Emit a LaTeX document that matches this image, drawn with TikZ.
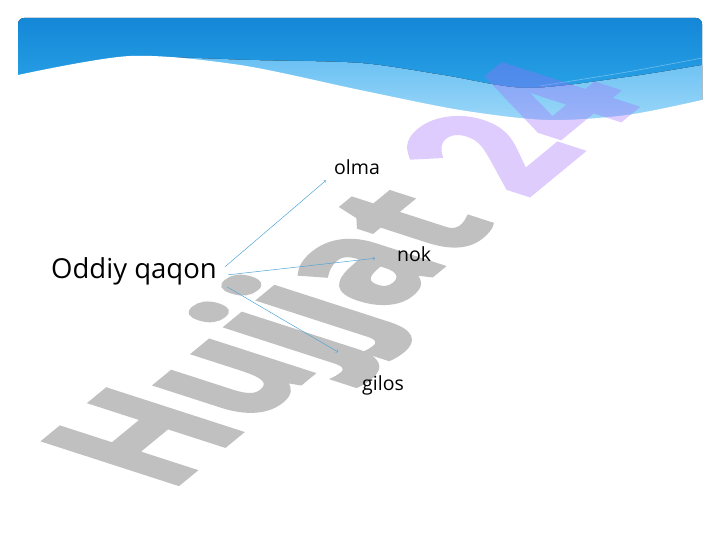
\documentclass[tikz,border=0pt]{standalone}
\usepackage{fontspec}
\setmainfont{Open Sans}
\newfontfamily\markfont{Open Sans}[BoldFeatures={FakeBold=3}]
\usetikzlibrary{arrows}
\definecolor{headtop}{RGB}{20,135,215}
\definecolor{headbot}{RGB}{55,180,240}
\definecolor{bandtop}{RGB}{105,192,243}
\definecolor{bandbot}{RGB}{170,222,250}
\definecolor{linkblue}{RGB}{80,165,215}
\definecolor{markgray}{RGB}{75,75,75}
\definecolor{markviolet}{RGB}{160,110,250}
\tikzset
{
    word/.style    = {anchor=base west, inner sep=2pt, font=\fontsize{19.5}{23}\selectfont},
    bigword/.style = {word, font=\fontsize{27.5}{33}\selectfont},
    link/.style    = {->, draw=linkblue, line width=0.5pt},
    stamp/.style   = {anchor=base west, inner sep=0pt, transform shape, font=\fontsize{100}{120}\markfont\bfseries}
}

\begin{document}
\begin{tikzpicture}[x=1pt, y=-1pt]
\useasboundingbox (0,0) rectangle (720,540);

%% header
\fill[top color=headtop, bottom color=headbot, rounded corners=6pt] (18,18) rectangle (702,140);
\fill[top color=bandtop, bottom color=bandbot] plot[smooth] coordinates {(170,57) (250,60) (360,63) (443,75) (527,88) (627,77) (702,65)} -- (702,140) -- (170,140) -- cycle;
\draw[white, opacity=0.35, line width=0.6pt] plot[smooth] coordinates {(540,86) (627,72) (702,58)};
\fill[white] (0,75) -- plot[smooth] coordinates {(18,75) (130,56) (240,65) (360,90) (460,110) (547,120) (627,115) (702,100)} -- (720,100) -- (720,150) -- (0,150) -- cycle;

%% watermark
\begin{scope}[transparency group, opacity=0.35, shift={(168,492)}, cm={1.07,0.88,-1.863,0.602,(0,0)}]
\node (mark) [stamp] at (0,0) {\textcolor{markgray}{Hujjat} \textcolor{markviolet}{24}};
\end{scope}

\node (src)   [bigword] at (49,278)  {Oddiy qaqon};
\node (olma)  [word]    at (332,174.5) {olma};
\node (nok)   [word]    at (395,261) {nok};
\node (gilos) [word]    at (360,390) {gilos};

\path
([xshift=6pt,yshift=4pt]src.east)        edge[link] ([xshift=-6pt,yshift=-3.5pt]olma.south west)
([xshift=9pt,yshift=-4pt]src.east)       edge[link] ([xshift=-20pt,yshift=-4.6pt]nok.west)
([xshift=8pt,yshift=0pt]src.south east)  edge[link] ([xshift=-22pt,yshift=21pt]gilos.north west);
\end{tikzpicture}
\end{document}
